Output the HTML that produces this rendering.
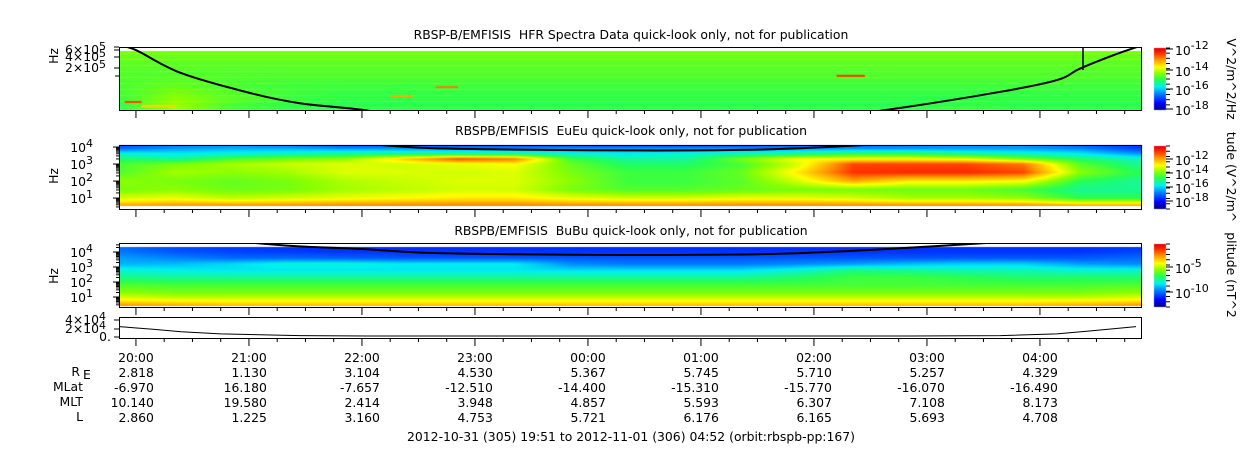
<!DOCTYPE html>
<html><head><meta charset="utf-8"><style>
body{margin:0;background:#fff;width:1250px;height:449px;overflow:hidden;position:relative;font-family:"DejaVu Sans","Liberation Sans",sans-serif}
canvas{position:absolute;left:0;top:0}
svg{position:absolute;left:0;top:0}
text{font-family:"DejaVu Sans","Liberation Sans",sans-serif;font-size:12.4px;fill:#000}
</style></head><body>
<canvas id="cv" width="1250" height="449"></canvas>
<svg id="sv" width="1250" height="449"></svg>
<script>
// ---------- data ----------
const colT = [0,0.5,1,1.5,2,2.5,3,3.5,4,4.5,5,5.5,6,6.5,7,7.5,8,8.5,9];
const hfrRowsLf = [4.2,4.5,4.8,5.1,5.4,5.7];
const hfrVals = [
 [0.50,0.62,0.52,0.50,0.50,0.50,0.50,0.50,0.50,0.50,0.50,0.50,0.50,0.50,0.50,0.52,0.50,0.50,0.50],
 [0.52,0.60,0.55,0.52,0.50,0.50,0.50,0.50,0.50,0.50,0.50,0.50,0.50,0.50,0.50,0.50,0.50,0.50,0.50],
 [0.53,0.56,0.53,0.52,0.52,0.52,0.52,0.52,0.52,0.52,0.52,0.52,0.52,0.52,0.52,0.52,0.52,0.52,0.52],
 [0.54,0.54,0.54,0.54,0.54,0.54,0.54,0.54,0.54,0.54,0.54,0.54,0.54,0.54,0.54,0.54,0.54,0.54,0.54],
 [0.55,0.55,0.55,0.55,0.55,0.55,0.55,0.55,0.55,0.55,0.55,0.55,0.55,0.55,0.55,0.55,0.55,0.55,0.55],
 [0.58,0.58,0.58,0.58,0.58,0.58,0.58,0.58,0.58,0.58,0.58,0.58,0.58,0.58,0.58,0.58,0.58,0.58,0.58]];
const hfrStreakT0 = [0.05,2.8,6.35,2.4,0.2];
const hfrStreakT1 = [0.2,3.0,6.6,2.6,0.5];
const hfrStreakLf = [4.4,4.78,5.07,4.55,4.3];
const hfrStreakV  = [0.9,0.85,0.92,0.8,0.75];
const euRowsLf = [0.35,0.5,1.0,1.5,2.0,2.5,3.0,3.3,3.6,3.9,4.12];
const euVals = [
 [0.84,0.85,0.86,0.86,0.86,0.86,0.86,0.86,0.86,0.86,0.86,0.86,0.86,0.86,0.86,0.86,0.86,0.84,0.84],
 [0.82,0.84,0.85,0.85,0.86,0.86,0.86,0.86,0.86,0.86,0.86,0.86,0.86,0.86,0.86,0.86,0.86,0.84,0.84],
 [0.66,0.68,0.64,0.66,0.68,0.70,0.72,0.72,0.68,0.66,0.66,0.68,0.68,0.66,0.62,0.62,0.60,0.50,0.50],
 [0.58,0.60,0.57,0.58,0.62,0.64,0.66,0.66,0.58,0.54,0.54,0.56,0.58,0.58,0.57,0.57,0.53,0.45,0.45],
 [0.60,0.58,0.56,0.58,0.63,0.65,0.67,0.67,0.60,0.52,0.52,0.55,0.66,0.80,0.72,0.72,0.70,0.50,0.45],
 [0.54,0.62,0.60,0.62,0.67,0.67,0.66,0.67,0.58,0.52,0.52,0.56,0.72,0.92,0.93,0.93,0.90,0.60,0.50],
 [0.53,0.58,0.62,0.65,0.67,0.66,0.68,0.70,0.56,0.48,0.48,0.53,0.66,0.90,0.90,0.90,0.85,0.55,0.45],
 [0.48,0.44,0.53,0.58,0.60,0.75,0.90,0.85,0.52,0.44,0.44,0.58,0.70,0.70,0.70,0.68,0.58,0.48,0.42],
 [0.40,0.38,0.40,0.42,0.45,0.45,0.45,0.45,0.40,0.38,0.40,0.42,0.45,0.50,0.50,0.45,0.42,0.38,0.30],
 [0.25,0.30,0.32,0.32,0.30,0.30,0.30,0.30,0.30,0.30,0.30,0.30,0.30,0.30,0.30,0.30,0.30,0.28,0.20],
 [0.20,0.25,0.28,0.25,0.20,0.20,0.18,0.18,0.18,0.18,0.18,0.18,0.20,0.22,0.25,0.28,0.28,0.22,0.18]];
const buRowsLf = [0.33,0.5,0.9,1.3,1.8,2.3,2.8,3.2,3.6,4.0,4.35];
const buVals = [
 [0.86,0.84,0.82,0.82,0.82,0.82,0.82,0.82,0.82,0.82,0.82,0.82,0.82,0.82,0.82,0.82,0.82,0.84,0.86],
 [0.80,0.78,0.76,0.76,0.76,0.76,0.76,0.76,0.76,0.76,0.76,0.76,0.76,0.76,0.76,0.76,0.76,0.78,0.80],
 [0.68,0.66,0.66,0.66,0.66,0.66,0.66,0.66,0.66,0.66,0.66,0.66,0.66,0.66,0.66,0.66,0.66,0.66,0.68],
 [0.60,0.58,0.58,0.58,0.58,0.58,0.58,0.58,0.58,0.58,0.58,0.58,0.58,0.58,0.58,0.58,0.58,0.58,0.60],
 [0.54,0.53,0.53,0.53,0.53,0.53,0.53,0.53,0.53,0.53,0.53,0.53,0.53,0.53,0.53,0.53,0.53,0.53,0.54],
 [0.46,0.45,0.45,0.45,0.45,0.45,0.45,0.45,0.45,0.45,0.45,0.45,0.48,0.52,0.52,0.50,0.48,0.48,0.48],
 [0.40,0.38,0.37,0.37,0.37,0.37,0.37,0.37,0.36,0.36,0.36,0.36,0.40,0.46,0.44,0.42,0.42,0.40,0.40],
 [0.32,0.33,0.36,0.40,0.40,0.38,0.38,0.38,0.28,0.26,0.26,0.26,0.28,0.30,0.33,0.35,0.35,0.30,0.28],
 [0.30,0.27,0.24,0.24,0.23,0.22,0.22,0.22,0.22,0.22,0.22,0.22,0.22,0.22,0.22,0.22,0.22,0.22,0.24],
 [0.26,0.22,0.20,0.19,0.18,0.18,0.18,0.18,0.18,0.18,0.18,0.18,0.18,0.18,0.18,0.18,0.18,0.18,0.20],
 [0.24,0.20,0.18,0.17,0.17,0.17,0.17,0.17,0.17,0.17,0.17,0.17,0.17,0.17,0.17,0.17,0.17,0.17,0.18]];
const lineT = [0,0.15,0.55,1.16,1.6,2.15,2.7,3.5,4.5,5.5,6.1,6.8,7.8,8.3,8.5,8.8,9.05];
const lineLogF = [5.85,5.73,5.14,4.63,4.37,4.2,3.95,3.85,3.8,3.83,3.95,4.2,4.66,4.96,5.25,5.6,5.85];
const altT = [0,0.3,0.55,0.9,1.6,2.2,4.5,7.0,7.8,8.3,8.6,9.0];
const altV = [22000,16000,10000,5000,1000,0,0,0,1000,5000,12000,22000];
const tickLabels = ["20:00","21:00","22:00","23:00","00:00","01:00","02:00","03:00","04:00"];
const reVals = ["2.818","1.130","3.104","4.530","5.367","5.745","5.710","5.257","4.329"];
const mlatVals = ["-6.970","16.180","-7.657","-12.510","-14.400","-15.310","-15.770","-16.070","-16.490"];
const mltVals = ["10.140","19.580","2.414","3.948","4.857","5.593","6.307","7.108","8.173"];
const lVals = ["2.860","1.225","3.160","4.753","5.721","6.176","6.165","5.693","4.708"];

// ---------- helpers ----------
const X0=119, X1=1142, PXH=113;
const xOf=t=>X0+t*PXH;
const tOf=x=>(x-X0)/PXH;
const stops=[[0,[0,0,128]],[0.12,[0,0,255]],[0.28,[0,140,255]],[0.38,[0,240,240]],[0.5,[40,255,80]],[0.6,[140,255,0]],[0.7,[255,255,0]],[0.82,[255,150,0]],[0.92,[255,48,0]],[1,[224,0,0]]];
function cmap(v){v=Math.max(0,Math.min(1,v));for(let i=1;i<stops.length;i++){if(v<=stops[i][0]){const a=stops[i-1],b=stops[i],f=(v-a[0])/(b[0]-a[0]);return a[1].map((c,k)=>Math.round(c+(b[1][k]-c)*f));}}return stops[stops.length-1][1];}
function interp1(xs,x){if(x<=xs[0])return [0,0,0];if(x>=xs[xs.length-1])return [xs.length-1,xs.length-1,0];for(let i=1;i<xs.length;i++)if(x<=xs[i])return [i-1,i,(x-xs[i-1])/(xs[i]-xs[i-1])];}
function sample(vals,rowsLf,t,lf){const [c0,c1,fc]=interp1(colT,t);const [r0,r1,fr]=interp1(rowsLf,lf);
 const a=vals[r0][c0]*(1-fc)+vals[r0][c1]*fc, b=vals[r1][c0]*(1-fc)+vals[r1][c1]*fc;return a*(1-fr)+b*fr;}
const cv=document.getElementById('cv'),ctx=cv.getContext('2d');
function drawPanel(y0,y1,lfTop,pxPerDec,vals,rows){
 const w=X1-X0,h=y1-y0,img=ctx.createImageData(w,h);
 for(let j=0;j<h;j++){const lf=lfTop-(j+0.5)/pxPerDec;
  for(let i=0;i<w;i++){const v=sample(vals,rows,tOf(X0+i+0.5),lf);const c=cmap(v);const k=(j*w+i)*4;img.data[k]=c[0];img.data[k+1]=c[1];img.data[k+2]=c[2];img.data[k+3]=255;}}
 ctx.putImageData(img,X0,y0);}
const P1={top:47,bot:110,lfTop:5.81,ppd:39};
const P2={top:145,bot:209,lfTop:4.12,ppd:17};
const P3={top:243,bot:307,lfTop:4.6,ppd:15};
drawPanel(51,110,P1.lfTop-4/P1.ppd,P1.ppd,hfrVals,hfrRowsLf);
for(let y=53;y<110;y+=6){ctx.fillStyle='rgba(200,255,0,0.35)';ctx.fillRect(X0,y,X1-X0,1);}
for(let i=0;i<hfrStreakT0.length;i++){const c=cmap(hfrStreakV[i]);ctx.fillStyle=`rgb(${c})`;
 const y=P1.top+(P1.lfTop-hfrStreakLf[i])*P1.ppd;ctx.fillRect(xOf(hfrStreakT0[i]),y-1,xOf(hfrStreakT1[i])-xOf(hfrStreakT0[i]),2);}
drawPanel(145,206,P2.lfTop,P2.ppd,euVals,euRowsLf);
drawPanel(247,306,P3.lfTop-4/P3.ppd,P3.ppd,buVals,buRowsLf);
function cbar(y0,y1){for(let y=y0;y<y1;y++){const c=cmap(1-(y-y0)/(y1-y0));ctx.fillStyle=`rgb(${c})`;ctx.fillRect(1154,y,12,1);}}
cbar(48,110);cbar(146,209);cbar(244,307);

// ---------- SVG ----------
const NS='http://www.w3.org/2000/svg',sv=document.getElementById('sv');
function el(tag,attrs,parent){const e=document.createElementNS(NS,tag);for(const k in attrs)e.setAttribute(k,attrs[k]);(parent||sv).appendChild(e);return e;}
function txt(s,x,y,anchor,parent){const e=el('text',{x:x,y:y,'text-anchor':anchor||'start'},parent);e.textContent=s;return e;}
const defs=el('defs',{});
[[P1,'c1'],[P2,'c2'],[P3,'c3']].forEach(([p,id])=>{const c=el('clipPath',{id:id},defs);el('rect',{x:X0,y:p.top,width:X1-X0,height:p.bot-p.top},c);});
// smooth line (Catmull-Rom)
function linePath(p){const pts=lineT.map((t,i)=>[xOf(t),p.top+(p.lfTop-lineLogF[i])*p.ppd]);
 let d='M'+pts[0][0].toFixed(1)+','+pts[0][1].toFixed(1);
 for(let i=0;i<pts.length-1;i++){const p0=pts[Math.max(0,i-1)],p1=pts[i],p2=pts[i+1],p3=pts[Math.min(pts.length-1,i+2)];
  const c1=[p1[0]+(p2[0]-p0[0])/6,p1[1]+(p2[1]-p0[1])/6],c2=[p2[0]-(p3[0]-p1[0])/6,p2[1]-(p3[1]-p1[1])/6];
  d+=`C${c1[0].toFixed(1)},${c1[1].toFixed(1)} ${c2[0].toFixed(1)},${c2[1].toFixed(1)} ${p2[0].toFixed(1)},${p2[1].toFixed(1)}`;}
 return d;}
[[P1,'c1','hfr-cyclotron-line'],[P2,'c2','eueu-cyclotron-line'],[P3,'c3','bubu-cyclotron-line']].forEach(([p,id,n])=>{
 const g=el('path',{d:linePath(p),fill:'none',stroke:'#000','stroke-width':2,'clip-path':`url(#${id})`});
 
 });
el('line',{x1:1083,y1:47,x2:1083,y2:70,stroke:'#000','stroke-width':1.5});
const frames=[[47,110,'hfr-panel'],[145,209,'eueu-panel'],[243,307,'bubu-panel'],[317,338,'ephemeris-panel']];
frames.forEach(([a,b,n])=>{const r=el('rect',{x:X0+0.5,y:a+0.5,width:X1-X0-1,height:b-a,fill:'none',stroke:'#000','stroke-width':1});
 
 
 for(let q=0;q<=36;q++){const t=0.15+q*0.25;const x=xOf(t);if(x>X1-1)break;const major=q%4===0;
  el('line',{x1:x,y1:b+0.5,x2:x,y2:b+(major?8:4),stroke:'#000','stroke-width':1});}});
let d='';for(let i=0;i<altT.length;i++){d+=(i?'L':'M')+xOf(altT[i]).toFixed(1)+','+(336-altV[i]*4.25/10000).toFixed(1);}
const al=el('path',{d:d,fill:'none',stroke:'#000','stroke-width':1});


function ylabels(p,decs){decs.forEach(k=>{const y=p.top+(p.lfTop-k)*p.ppd;el('line',{x1:X0-6,y1:y,x2:X0,y2:y,stroke:'#000'});
 const t=txt('10',X0-26,y+5,'end');const s=el('tspan',{dy:-5,'font-size':'11px'},t);s.textContent=String(k);});
 for(let k=Math.floor(p.lfTop-(p.bot-p.top)/p.ppd);k<=p.lfTop;k++)for(let m=2;m<10;m++){const lf=k+Math.log10(m);const y=p.top+(p.lfTop-lf)*p.ppd;if(y>p.top&&y<p.bot)el('line',{x1:X0-3,y1:y,x2:X0,y2:y,stroke:'#000'});}}
ylabels(P2,[1,2,3,4]);ylabels(P3,[1,2,3,4]);
[['6×10',50],['4×10',57],['2×10',68]].forEach(([s,y])=>{const t=txt(s,X0-13,y+4,'end');const sp=el('tspan',{dy:-4,'font-size':'11px'},t);sp.textContent='5';el('line',{x1:X0-5,y1:y,x2:X0,y2:y,stroke:'#000'});});
el('line',{x1:X0-5,y1:47,x2:X0,y2:47,stroke:'#000'});el('line',{x1:X0-4,y1:76,x2:X0,y2:76,stroke:'#000'});
[['4×10',320,'4'],['2×10',329,'4'],['0.',337,'']].forEach(([s,y,e])=>{const t=txt(s,e?X0-13:X0-8,y+4,'end');if(e){const sp=el('tspan',{dy:-4,'font-size':'11px'},t);sp.textContent=e;}el('line',{x1:X0-5,y1:y,x2:X0,y2:y,stroke:'#000'});});
[[56,'hfr'],[176,'eueu'],[276,'bubu']].forEach(([y,n])=>{const t=txt('Hz',0,0,'middle');t.setAttribute('transform',`translate(58,${y}) rotate(-90)`);
 
 });
[['RBSP-B/EMFISIS  HFR Spectra Data quick-look only, not for publication',39,'hfr-title'],['RBSPB/EMFISIS  EuEu quick-look only, not for publication',135,'eueu-title'],['RBSPB/EMFISIS  BuBu quick-look only, not for publication',235,'bubu-title']].forEach(([s,y,n])=>{const t=txt(s,631,y,'middle');t.setAttribute('style','white-space:pre');
 
 });
function cbLabels(y0,y1,labs){
 for(let y=y0;y<=y1;y+=(y1-y0)/12)el('line',{x1:1166,y1:y,x2:1170,y2:y,stroke:'#000'});
 labs.forEach(([e,y])=>{el('line',{x1:1166,y1:y,x2:1173,y2:y,stroke:'#000'});const t=txt('10',1175,y+6);const s=el('tspan',{dy:-6,'font-size':'11px'},t);s.textContent=e;});}
cbLabels(48,110,[['-12',49],['-14',70],['-16',89],['-18',109]]);
cbLabels(146,209,[['-12',159],['-14',173],['-16',187],['-18',201]]);
cbLabels(244,307,[['-5',267],['-10',292]]);
[['V^2/m^2/Hz',79],['tude (V^2/m^',177],['plitude (nT^2',275]].forEach(([s,y],i)=>{const t=txt(s,0,0,'middle');t.setAttribute('transform',`translate(1227,${y}) rotate(90)`);
 
 });
txt('R',80,376,'end');const se=txt('E',83,379,'start');se.setAttribute('font-size','6px');
txt('MLat',83,391,'end');txt('MLT',83,406,'end');txt('L',83,421,'end');
tickLabels.forEach((s,i)=>{const x=xOf(0.15+i);const t=txt(s,x,362,'middle');
 
 
 [reVals,mlatVals,mltVals,lVals].forEach((arr,r)=>txt(arr[i],x+18,377+r*15,'end'));});
const ft=txt('2012-10-31 (305) 19:51 to 2012-11-01 (306) 04:52 (orbit:rbspb-pp:167)',631,441,'middle');


</script>
</body></html>
